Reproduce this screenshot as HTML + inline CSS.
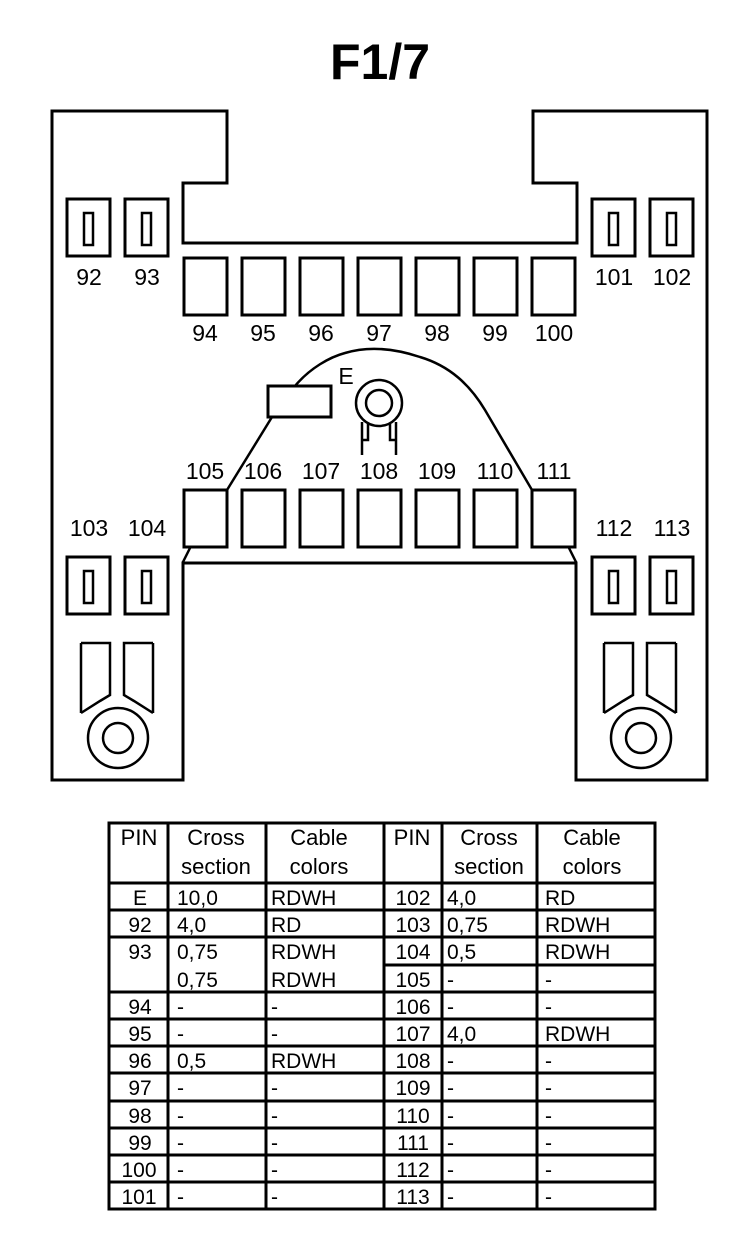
<!DOCTYPE html>
<html><head><meta charset="utf-8"><style>
html,body{margin:0;padding:0;background:#fff}
svg{display:block}
text{font-family:"Liberation Sans",Arial,sans-serif;fill:#000}
</style></head><body>
<svg width="752" height="1248" viewBox="0 0 752 1248" xmlns="http://www.w3.org/2000/svg">
<text x="380" y="79" font-size="50" font-weight="bold" text-anchor="middle">F1/7</text>
<g fill="none" stroke="#000" stroke-width="3">
<path d="M52,111 H227 V183 H183 V243 H577 V183 H533 V111 H707 V780 H576 V563 H183 V780 H52 Z"/>
<rect x="67" y="199" width="43" height="57"/><rect x="125" y="199" width="43" height="57"/>
<rect x="592" y="199" width="43" height="57"/><rect x="650" y="199" width="43" height="57"/>
<rect x="67" y="557" width="43" height="57"/><rect x="125" y="557" width="43" height="57"/>
<rect x="592" y="557" width="43" height="57"/><rect x="650" y="557" width="43" height="57"/>
</g>
<g fill="none" stroke="#000" stroke-width="2.5">
<rect x="84" y="213" width="9" height="32"/><rect x="142" y="213" width="9" height="32"/>
<rect x="609" y="213" width="9" height="32"/><rect x="667" y="213" width="9" height="32"/>
<rect x="84" y="571" width="9" height="32"/><rect x="142" y="571" width="9" height="32"/>
<rect x="609" y="571" width="9" height="32"/><rect x="667" y="571" width="9" height="32"/>
</g>
<g fill="none" stroke="#000" stroke-width="3">
<rect x="184" y="258" width="43" height="57"/><rect x="242" y="258" width="43" height="57"/>
<rect x="300" y="258" width="43" height="57"/><rect x="358" y="258" width="43" height="57"/>
<rect x="416" y="258" width="43" height="57"/><rect x="474" y="258" width="43" height="57"/>
<rect x="532" y="258" width="43" height="57"/>
<rect x="184" y="490" width="43" height="57"/><rect x="242" y="490" width="43" height="57"/>
<rect x="300" y="490" width="43" height="57"/><rect x="358" y="490" width="43" height="57"/>
<rect x="416" y="490" width="43" height="57"/><rect x="474" y="490" width="43" height="57"/>
<rect x="532" y="490" width="43" height="57"/>
<rect x="268" y="386" width="63" height="31"/>
</g>
<g fill="none" stroke="#000" stroke-width="2.5">
<path d="M227,490 L272,417"/>
<path d="M295,386 C310,368 330,357 345,353 C365,347 390,347 420,357 C450,366 470,385 485,410 L532,490"/>
<path d="M190,548 L183,562"/><path d="M569,548 L576,562"/>
<circle cx="379" cy="403" r="23"/><circle cx="379" cy="403" r="13"/>
<path d="M362,455 V422 M368,424 V440 H362 M396,455 V422 M390,424 V440 H396"/>
<path d="M81,643 V713 M81,643 H110 V695 L100,701 L81,713"/>
<path d="M153,643 V713 M153,643 H124 V695 L134,701 L153,713"/>
<circle cx="118" cy="738" r="30"/><circle cx="118" cy="738" r="15"/>
<path d="M604,643 V713 M604,643 H633 V695 L623,701 L604,713"/>
<path d="M676,643 V713 M676,643 H647 V695 L657,701 L676,713"/>
<circle cx="641" cy="738" r="30"/><circle cx="641" cy="738" r="15"/>
</g>
<g font-size="23" text-anchor="middle">
<text x="89" y="285">92</text><text x="147" y="285">93</text>
<text x="614" y="285">101</text><text x="672" y="285">102</text>
<text x="205" y="341">94</text><text x="263" y="341">95</text><text x="321" y="341">96</text>
<text x="379" y="341">97</text><text x="437" y="341">98</text><text x="495" y="341">99</text><text x="554" y="341">100</text>
<text x="205" y="479">105</text><text x="263" y="479">106</text><text x="321" y="479">107</text>
<text x="379" y="479">108</text><text x="437" y="479">109</text><text x="495" y="479">110</text><text x="554" y="479">111</text>
<text x="89" y="536">103</text><text x="147" y="536">104</text>
<text x="614" y="536">112</text><text x="672" y="536">113</text>
<text x="346" y="384">E</text>
</g>
<g fill="none" stroke="#000" stroke-width="3">
<rect x="109" y="823" width="546" height="386"/>
<path d="M168,823 V1209 M266,823 V1209 M384,823 V1209 M442,823 V1209 M537,823 V1209"/>
<path d="M109,883 H655"/>
<path d="M109,910 H655 M109,937 H655 M384,965 H655 M109,992 H655 M109,1019 H655 M109,1046 H655 M109,1073 H655 M109,1101 H655 M109,1128 H655 M109,1155 H655 M109,1182 H655"/>
</g>
<g font-size="22">
<text x="139" y="845" text-anchor="middle">PIN</text>
<text x="216" y="845" text-anchor="middle">Cross</text><text x="216" y="874" text-anchor="middle">section</text>
<text x="319" y="845" text-anchor="middle">Cable</text><text x="319" y="874" text-anchor="middle">colors</text>
<text x="412" y="845" text-anchor="middle">PIN</text>
<text x="489" y="845" text-anchor="middle">Cross</text><text x="489" y="874" text-anchor="middle">section</text>
<text x="592" y="845" text-anchor="middle">Cable</text><text x="592" y="874" text-anchor="middle">colors</text>
</g>
<g font-size="21">
<g text-anchor="middle">
<text x="140" y="905">E</text><text x="140" y="932">92</text><text x="140" y="959">93</text>
<text x="140" y="1014">94</text><text x="140" y="1041">95</text><text x="140" y="1068">96</text>
<text x="140" y="1095">97</text><text x="140" y="1123">98</text><text x="140" y="1150">99</text>
<text x="139" y="1177">100</text><text x="139" y="1204">101</text>
<text x="413" y="905">102</text><text x="413" y="932">103</text><text x="413" y="959">104</text>
<text x="413" y="987">105</text><text x="413" y="1014">106</text><text x="413" y="1041">107</text>
<text x="413" y="1068">108</text><text x="413" y="1095">109</text><text x="413" y="1123">110</text>
<text x="413" y="1150">111</text><text x="413" y="1177">112</text><text x="413" y="1204">113</text>
</g>
<text x="177" y="905">10,0</text><text x="271" y="905">RDWH</text>
<text x="177" y="932">4,0</text><text x="271" y="932">RD</text>
<text x="177" y="959">0,75</text><text x="271" y="959">RDWH</text>
<text x="177" y="987">0,75</text><text x="271" y="987">RDWH</text>
<text x="177" y="1014">-</text><text x="271" y="1014">-</text>
<text x="177" y="1041">-</text><text x="271" y="1041">-</text>
<text x="177" y="1068">0,5</text><text x="271" y="1068">RDWH</text>
<text x="177" y="1095">-</text><text x="271" y="1095">-</text>
<text x="177" y="1123">-</text><text x="271" y="1123">-</text>
<text x="177" y="1150">-</text><text x="271" y="1150">-</text>
<text x="177" y="1177">-</text><text x="271" y="1177">-</text>
<text x="177" y="1204">-</text><text x="271" y="1204">-</text>
<text x="447" y="905">4,0</text><text x="545" y="905">RD</text>
<text x="447" y="932">0,75</text><text x="545" y="932">RDWH</text>
<text x="447" y="959">0,5</text><text x="545" y="959">RDWH</text>
<text x="447" y="987">-</text><text x="545" y="987">-</text>
<text x="447" y="1014">-</text><text x="545" y="1014">-</text>
<text x="447" y="1041">4,0</text><text x="545" y="1041">RDWH</text>
<text x="447" y="1068">-</text><text x="545" y="1068">-</text>
<text x="447" y="1095">-</text><text x="545" y="1095">-</text>
<text x="447" y="1123">-</text><text x="545" y="1123">-</text>
<text x="447" y="1150">-</text><text x="545" y="1150">-</text>
<text x="447" y="1177">-</text><text x="545" y="1177">-</text>
<text x="447" y="1204">-</text><text x="545" y="1204">-</text>
</g>
</svg>
</body></html>
